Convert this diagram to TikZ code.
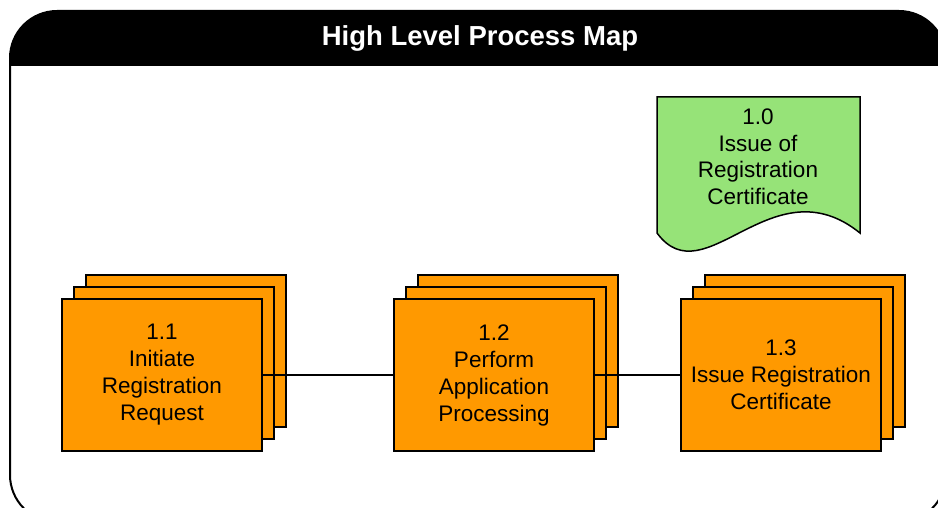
\documentclass[tikz,border=0pt]{standalone}
\usepackage{fontspec}
\setmainfont{Liberation Sans}
\usetikzlibrary{shadows}
\definecolor{steporange}{RGB}{255,153,0}
\definecolor{docgreen}{RGB}{150,227,120}
\tikzset{
  process/.style={draw, line width=1.5pt, fill=steporange,
    minimum width=200pt, minimum height=152pt, align=center,
    font=\fontsize{22.5}{27}\selectfont,
    copy shadow={shadow xshift=24pt, shadow yshift=24pt},
    copy shadow={shadow xshift=12pt, shadow yshift=12pt}},
  doctext/.style={align=center, font=\fontsize{22.5}{26.5}\selectfont},
  link/.style={line width=1.5pt}
}

\begin{document}
\begin{tikzpicture}[x=1pt, y=-1pt]
  \useasboundingbox (0,0) rectangle (938,508);
  \clip (0,0) rectangle (938,508);

  % Frame and header
  \begin{scope}
    \clip[rounded corners=47pt] (10,11) rectangle (946,522);
    \fill (0,0) rectangle (950,66);
  \end{scope}
  \draw[line width=2pt, rounded corners=47pt] (10,11) rectangle (946,522);
  \node[text=white, font=\bfseries\fontsize{27.5}{32}\selectfont] (title) at (480,38) {High Level Process Map};

  % Document shape
  \filldraw[fill=docgreen, line width=1.5pt] (657,97) -- (860,97) -- (860,233)
    .. controls (772,162) and (705,298) .. (657,233) -- cycle;
  \node[doctext] (doc) at (758,157) {1.0\\Issue of\\Registration\\Certificate};

  % Define nodes
  \node[process] (p11) at (162,375) {1.1\\Initiate\\Registration\\Request};
  \node[process] (p12) at (494,375) {1.2\\Perform\\Application\\Processing};
  \node[process] (p13) at (781,375) {1.3\\Issue Registration\\Certificate};

  % Connect the nodes
  \draw[link] (p11) -- (p12);
  \draw[link] (p12) -- (p13);
\end{tikzpicture}
\end{document}
